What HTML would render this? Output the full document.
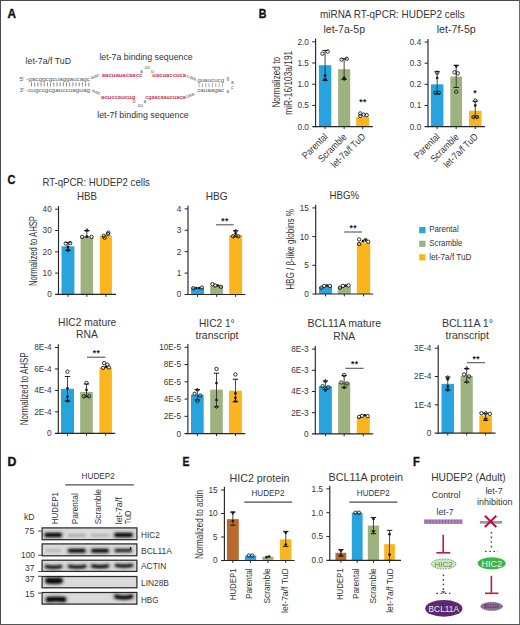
<!DOCTYPE html><html><head><meta charset="utf-8"><style>html,body{margin:0;padding:0;background:#fff;}svg{display:block;}</style></head><body>
<svg width="520" height="625" viewBox="0 0 520 625" font-family='"Liberation Sans", sans-serif' fill="#363636">
<rect x="0.00" y="0.00" width="520.00" height="625.00" fill="#fff" />
<defs><filter id="bl" filterUnits="userSpaceOnUse" x="0" y="0" width="520" height="625"><feGaussianBlur stdDeviation="0.8"/></filter><filter id="bl2" filterUnits="userSpaceOnUse" x="0" y="0" width="520" height="625"><feGaussianBlur stdDeviation="0.45"/></filter><filter id="bl3" filterUnits="userSpaceOnUse" x="0" y="0" width="520" height="625"><feGaussianBlur stdDeviation="1.3"/></filter></defs>
<text x="7.50" y="17.60" font-size="12.4" font-weight="bold" fill="#111" stroke="#111" stroke-width="0.35" textLength="8.50" lengthAdjust="spacingAndGlyphs" >A</text>
<text x="258.70" y="17.80" font-size="12.4" font-weight="bold" fill="#111" stroke="#111" stroke-width="0.35" textLength="7.70" lengthAdjust="spacingAndGlyphs" >B</text>
<text x="7.60" y="184.40" font-size="12.4" font-weight="bold" fill="#111" stroke="#111" stroke-width="0.35" textLength="7.90" lengthAdjust="spacingAndGlyphs" >C</text>
<text x="7.50" y="465.70" font-size="12.4" font-weight="bold" fill="#111" stroke="#111" stroke-width="0.35" textLength="8.90" lengthAdjust="spacingAndGlyphs" >D</text>
<text x="182.40" y="465.70" font-size="12.4" font-weight="bold" fill="#111" stroke="#111" stroke-width="0.35" textLength="7.00" lengthAdjust="spacingAndGlyphs" >E</text>
<text x="413.10" y="465.70" font-size="12.4" font-weight="bold" fill="#111" stroke="#111" stroke-width="0.35" textLength="6.80" lengthAdjust="spacingAndGlyphs" >F</text>
<text x="25.60" y="63.50" font-size="9.2" textLength="45.40" lengthAdjust="spacingAndGlyphs" >let-7a/f TuD</text>
<text x="99.40" y="59.80" font-size="9.2" textLength="93.30" lengthAdjust="spacingAndGlyphs" >let-7a binding sequence</text>
<text x="97.20" y="117.60" font-size="9.2" textLength="91.60" lengthAdjust="spacingAndGlyphs" >let-7f binding sequence</text>
<text x="19.50" y="81.20" font-size="4.8" fill="#5a5a5a" textLength="70.50" lengthAdjust="spacingAndGlyphs" >5' -gacggcgcuaggaucagc</text>
<text x="19.50" y="91.80" font-size="4.8" fill="#5a5a5a" textLength="70.50" lengthAdjust="spacingAndGlyphs" >3' -cugccgcgauccuaguag</text>
<line x1="31.50" y1="82.40" x2="31.50" y2="86.40" stroke="#555" stroke-width="0.7" />
<line x1="34.68" y1="82.40" x2="34.68" y2="86.40" stroke="#555" stroke-width="0.7" />
<line x1="37.87" y1="82.40" x2="37.87" y2="86.40" stroke="#555" stroke-width="0.7" />
<line x1="41.05" y1="82.40" x2="41.05" y2="86.40" stroke="#555" stroke-width="0.7" />
<line x1="44.23" y1="82.40" x2="44.23" y2="86.40" stroke="#555" stroke-width="0.7" />
<line x1="47.42" y1="82.40" x2="47.42" y2="86.40" stroke="#555" stroke-width="0.7" />
<line x1="50.60" y1="82.40" x2="50.60" y2="86.40" stroke="#555" stroke-width="0.7" />
<line x1="53.78" y1="82.40" x2="53.78" y2="86.40" stroke="#555" stroke-width="0.7" />
<line x1="56.97" y1="82.40" x2="56.97" y2="86.40" stroke="#555" stroke-width="0.7" />
<line x1="60.15" y1="82.40" x2="60.15" y2="86.40" stroke="#555" stroke-width="0.7" />
<line x1="63.33" y1="82.40" x2="63.33" y2="86.40" stroke="#555" stroke-width="0.7" />
<line x1="66.52" y1="82.40" x2="66.52" y2="86.40" stroke="#555" stroke-width="0.7" />
<line x1="69.70" y1="82.40" x2="69.70" y2="86.40" stroke="#555" stroke-width="0.7" />
<line x1="72.88" y1="82.40" x2="72.88" y2="86.40" stroke="#555" stroke-width="0.7" />
<line x1="76.07" y1="82.40" x2="76.07" y2="86.40" stroke="#555" stroke-width="0.7" />
<line x1="79.25" y1="82.40" x2="79.25" y2="86.40" stroke="#555" stroke-width="0.7" />
<line x1="82.43" y1="82.40" x2="82.43" y2="86.40" stroke="#555" stroke-width="0.7" />
<line x1="85.62" y1="82.40" x2="85.62" y2="86.40" stroke="#555" stroke-width="0.7" />
<line x1="88.80" y1="82.40" x2="88.80" y2="86.40" stroke="#555" stroke-width="0.7" />
<text x="91.60" y="79.30" font-size="4.7" fill="#5a5a5a" transform="rotate(-22 91.60 79.30)" textLength="9.00" lengthAdjust="spacingAndGlyphs" >aac</text>
<text x="91.60" y="91.60" font-size="4.7" fill="#5a5a5a" transform="rotate(22 91.60 91.60)" textLength="9.00" lengthAdjust="spacingAndGlyphs" >aac</text>
<text x="101.80" y="77.40" font-size="4.9" font-weight="bold" fill="#c8385a" textLength="40.50" lengthAdjust="spacingAndGlyphs" >aacuauacaacc</text>
<text x="140.00" y="72.50" font-size="4.9" fill="#5a5a5a" >a</text>
<text x="144.80" y="69.00" font-size="4.9" fill="#5a5a5a" >uc</text>
<text x="151.00" y="72.50" font-size="4.9" fill="#5a5a5a" >u</text>
<text x="152.30" y="77.40" font-size="4.9" font-weight="bold" fill="#c8385a" textLength="33.80" lengthAdjust="spacingAndGlyphs" >uacuaccuca</text>
<text x="186.30" y="77.00" font-size="4.7" fill="#5a5a5a" transform="rotate(22 186.30 77.00)" textLength="10.00" lengthAdjust="spacingAndGlyphs" >caa</text>
<text x="197.20" y="81.80" font-size="4.7" fill="#5a5a5a" textLength="27.00" lengthAdjust="spacingAndGlyphs" >guaucucg</text>
<text x="197.20" y="92.30" font-size="4.7" fill="#5a5a5a" textLength="27.00" lengthAdjust="spacingAndGlyphs" >cauaagac</text>
<line x1="199.00" y1="83.20" x2="199.00" y2="87.20" stroke="#777" stroke-width="0.6" />
<line x1="202.36" y1="83.20" x2="202.36" y2="87.20" stroke="#777" stroke-width="0.6" />
<line x1="205.71" y1="83.20" x2="205.71" y2="87.20" stroke="#777" stroke-width="0.6" />
<line x1="209.07" y1="83.20" x2="209.07" y2="87.20" stroke="#777" stroke-width="0.6" />
<line x1="212.43" y1="83.20" x2="212.43" y2="87.20" stroke="#777" stroke-width="0.6" />
<line x1="215.79" y1="83.20" x2="215.79" y2="87.20" stroke="#777" stroke-width="0.6" />
<line x1="219.14" y1="83.20" x2="219.14" y2="87.20" stroke="#777" stroke-width="0.6" />
<line x1="222.50" y1="83.20" x2="222.50" y2="87.20" stroke="#777" stroke-width="0.6" />
<text x="226.40" y="80.30" font-size="4.7" fill="#5a5a5a" >g</text>
<text x="230.90" y="84.00" font-size="4.7" fill="#5a5a5a" >a</text>
<text x="230.90" y="89.00" font-size="4.7" fill="#5a5a5a" >c</text>
<text x="226.40" y="92.60" font-size="4.7" fill="#5a5a5a" >a</text>
<text x="101.00" y="99.10" font-size="4.9" font-weight="bold" fill="#c8385a" textLength="34.40" lengthAdjust="spacingAndGlyphs" >acuccaucug</text>
<text x="132.80" y="103.20" font-size="4.9" fill="#5a5a5a" >u</text>
<text x="137.80" y="107.20" font-size="4.9" fill="#5a5a5a" >cu</text>
<text x="143.50" y="103.20" font-size="4.9" fill="#5a5a5a" >a</text>
<text x="145.20" y="99.10" font-size="4.9" font-weight="bold" fill="#c8385a" textLength="40.00" lengthAdjust="spacingAndGlyphs" >cgaacaaucuaca</text>
<text x="185.40" y="98.60" font-size="4.7" fill="#5a5a5a" transform="rotate(-22 185.40 98.60)" textLength="10.00" lengthAdjust="spacingAndGlyphs" >caa</text>
<text x="320.00" y="18.30" font-size="10.5" textLength="144.60" lengthAdjust="spacingAndGlyphs" >miRNA RT-qPCR: HUDEP2 cells</text>
<text x="323.50" y="32.50" font-size="10.5" textLength="41.50" lengthAdjust="spacingAndGlyphs" >let-7a-5p</text>
<text x="436.70" y="32.50" font-size="10.5" textLength="39.10" lengthAdjust="spacingAndGlyphs" >let-7f-5p</text>
<text x="280.30" y="82.30" font-size="10.4" text-anchor="middle" transform="rotate(-90 280.30 82.30)" textLength="50.60" lengthAdjust="spacingAndGlyphs" >Normalized to</text>
<text x="291.90" y="82.80" font-size="10.4" text-anchor="middle" transform="rotate(-90 291.90 82.80)" textLength="64.00" lengthAdjust="spacingAndGlyphs" >miR-16/103a/191</text>
<rect x="318.90" y="65.20" width="12.40" height="61.40" fill="#27a3dd" />
<rect x="338.10" y="69.19" width="12.10" height="57.41" fill="#9db27e" />
<rect x="356.20" y="117.06" width="13.00" height="9.54" fill="#fab51f" />
<line x1="315.60" y1="38.60" x2="315.60" y2="127.20" stroke="#262626" stroke-width="1.15" />
<line x1="312.20" y1="126.60" x2="372.80" y2="126.60" stroke="#262626" stroke-width="1.15" />
<text x="308.80" y="129.53" font-size="8.2" text-anchor="end" fill="#363636" >0.0</text>
<line x1="312.20" y1="105.40" x2="315.60" y2="105.40" stroke="#262626" stroke-width="1" />
<text x="308.80" y="108.33" font-size="8.2" text-anchor="end" fill="#363636" >0.5</text>
<line x1="312.20" y1="84.20" x2="315.60" y2="84.20" stroke="#262626" stroke-width="1" />
<text x="308.80" y="87.13" font-size="8.2" text-anchor="end" fill="#363636" >1.0</text>
<line x1="312.20" y1="63.00" x2="315.60" y2="63.00" stroke="#262626" stroke-width="1" />
<text x="308.80" y="65.93" font-size="8.2" text-anchor="end" fill="#363636" >1.5</text>
<line x1="312.20" y1="41.80" x2="315.60" y2="41.80" stroke="#262626" stroke-width="1" />
<text x="308.80" y="44.73" font-size="8.2" text-anchor="end" fill="#363636" >2.0</text>
<line x1="325.10" y1="126.60" x2="325.10" y2="129.00" stroke="#262626" stroke-width="1" />
<line x1="344.15" y1="126.60" x2="344.15" y2="129.00" stroke="#262626" stroke-width="1" />
<line x1="362.70" y1="126.60" x2="362.70" y2="129.00" stroke="#262626" stroke-width="1" />
<line x1="325.10" y1="50.41" x2="325.10" y2="80.38" stroke="#333" stroke-width="0.9" />
<line x1="322.40" y1="50.41" x2="327.80" y2="50.41" stroke="#1a1a1a" stroke-width="1.0" />
<line x1="322.40" y1="80.38" x2="327.80" y2="80.38" stroke="#1a1a1a" stroke-width="1.0" />
<circle cx="322.50" cy="53.67" r="1.7" fill="none" stroke="#1a1a1a" stroke-width="0.9"/>
<circle cx="327.70" cy="51.55" r="1.7" fill="none" stroke="#1a1a1a" stroke-width="0.9"/>
<circle cx="325.10" cy="75.72" r="1.35" fill="#1a1a1a"/>
<path d="M323.40,78.76 L326.80,78.76 L325.10,81.56 Z" fill="#1a1a1a" stroke="#1a1a1a" stroke-width="0.6"/>
<line x1="344.15" y1="58.76" x2="344.15" y2="79.54" stroke="#333" stroke-width="0.9" />
<line x1="341.45" y1="58.76" x2="346.85" y2="58.76" stroke="#1a1a1a" stroke-width="1.0" />
<line x1="341.45" y1="79.54" x2="346.85" y2="79.54" stroke="#1a1a1a" stroke-width="1.0" />
<circle cx="341.55" cy="59.61" r="1.7" fill="none" stroke="#1a1a1a" stroke-width="0.9"/>
<circle cx="346.75" cy="58.76" r="1.7" fill="none" stroke="#1a1a1a" stroke-width="0.9"/>
<circle cx="344.15" cy="77.84" r="1.35" fill="#1a1a1a"/>
<path d="M342.45,77.91 L345.85,77.91 L344.15,80.71 Z" fill="#1a1a1a" stroke="#1a1a1a" stroke-width="0.6"/>
<circle cx="360.30" cy="113.46" r="1.7" fill="none" stroke="#1a1a1a" stroke-width="0.9"/>
<circle cx="360.30" cy="116.00" r="1.7" fill="none" stroke="#1a1a1a" stroke-width="0.9"/>
<circle cx="363.70" cy="114.73" r="1.7" fill="none" stroke="#1a1a1a" stroke-width="0.9"/>
<circle cx="366.70" cy="115.15" r="1.7" fill="none" stroke="#1a1a1a" stroke-width="0.9"/>
<text x="360.80" y="104.50" font-size="8.5" text-anchor="middle" font-weight="bold" fill="#1a1a1a" >*</text>
<text x="364.60" y="104.50" font-size="8.5" text-anchor="middle" font-weight="bold" fill="#1a1a1a" >*</text>
<rect x="430.90" y="84.34" width="12.50" height="42.26" fill="#27a3dd" />
<rect x="450.30" y="76.52" width="11.80" height="50.08" fill="#9db27e" />
<rect x="469.00" y="110.75" width="12.50" height="15.85" fill="#fab51f" />
<line x1="428.00" y1="38.88" x2="428.00" y2="127.20" stroke="#262626" stroke-width="1.15" />
<line x1="424.60" y1="126.60" x2="485.00" y2="126.60" stroke="#262626" stroke-width="1.15" />
<text x="421.20" y="129.53" font-size="8.2" text-anchor="end" fill="#363636" >0.0</text>
<line x1="424.60" y1="105.47" x2="428.00" y2="105.47" stroke="#262626" stroke-width="1" />
<text x="421.20" y="108.40" font-size="8.2" text-anchor="end" fill="#363636" >0.1</text>
<line x1="424.60" y1="84.34" x2="428.00" y2="84.34" stroke="#262626" stroke-width="1" />
<text x="421.20" y="87.27" font-size="8.2" text-anchor="end" fill="#363636" >0.2</text>
<line x1="424.60" y1="63.21" x2="428.00" y2="63.21" stroke="#262626" stroke-width="1" />
<text x="421.20" y="66.14" font-size="8.2" text-anchor="end" fill="#363636" >0.3</text>
<line x1="424.60" y1="42.08" x2="428.00" y2="42.08" stroke="#262626" stroke-width="1" />
<text x="421.20" y="45.01" font-size="8.2" text-anchor="end" fill="#363636" >0.4</text>
<line x1="437.15" y1="126.60" x2="437.15" y2="129.00" stroke="#262626" stroke-width="1" />
<line x1="456.20" y1="126.60" x2="456.20" y2="129.00" stroke="#262626" stroke-width="1" />
<line x1="475.25" y1="126.60" x2="475.25" y2="129.00" stroke="#262626" stroke-width="1" />
<line x1="437.15" y1="71.66" x2="437.15" y2="93.85" stroke="#333" stroke-width="0.9" />
<line x1="434.45" y1="71.66" x2="439.85" y2="71.66" stroke="#1a1a1a" stroke-width="1.0" />
<line x1="434.45" y1="93.85" x2="439.85" y2="93.85" stroke="#1a1a1a" stroke-width="1.0" />
<circle cx="437.15" cy="72.72" r="1.7" fill="none" stroke="#1a1a1a" stroke-width="0.9"/>
<circle cx="437.15" cy="78.00" r="1.35" fill="#1a1a1a"/>
<circle cx="435.55" cy="92.79" r="1.7" fill="none" stroke="#1a1a1a" stroke-width="0.9"/>
<circle cx="438.75" cy="92.79" r="1.7" fill="none" stroke="#1a1a1a" stroke-width="0.9"/>
<line x1="456.20" y1="65.32" x2="456.20" y2="87.51" stroke="#333" stroke-width="0.9" />
<line x1="453.50" y1="65.32" x2="458.90" y2="65.32" stroke="#1a1a1a" stroke-width="1.0" />
<line x1="453.50" y1="87.51" x2="458.90" y2="87.51" stroke="#1a1a1a" stroke-width="1.0" />
<circle cx="454.60" cy="72.30" r="1.7" fill="none" stroke="#1a1a1a" stroke-width="0.9"/>
<circle cx="457.80" cy="73.35" r="1.7" fill="none" stroke="#1a1a1a" stroke-width="0.9"/>
<circle cx="456.20" cy="91.74" r="1.7" fill="none" stroke="#1a1a1a" stroke-width="0.9"/>
<path d="M454.50,65.18 L457.90,65.18 L456.20,67.98 Z" fill="#1a1a1a" stroke="#1a1a1a" stroke-width="0.6"/>
<line x1="475.25" y1="101.24" x2="475.25" y2="117.09" stroke="#333" stroke-width="0.9" />
<line x1="472.55" y1="101.24" x2="477.95" y2="101.24" stroke="#1a1a1a" stroke-width="1.0" />
<line x1="472.55" y1="117.09" x2="477.95" y2="117.09" stroke="#1a1a1a" stroke-width="1.0" />
<circle cx="475.25" cy="100.61" r="1.7" fill="none" stroke="#1a1a1a" stroke-width="0.9"/>
<circle cx="475.25" cy="105.47" r="1.35" fill="#1a1a1a"/>
<circle cx="473.45" cy="117.09" r="1.7" fill="none" stroke="#1a1a1a" stroke-width="0.9"/>
<circle cx="477.05" cy="117.09" r="1.7" fill="none" stroke="#1a1a1a" stroke-width="0.9"/>
<text x="474.90" y="96.00" font-size="8.5" text-anchor="middle" font-weight="bold" fill="#1a1a1a" >*</text>
<text x="328.30" y="137.30" font-size="9.8" text-anchor="end" transform="rotate(-45 328.30 137.30)" textLength="31.50" lengthAdjust="spacingAndGlyphs" >Parental</text>
<text x="347.20" y="137.60" font-size="9.8" text-anchor="end" transform="rotate(-45 347.20 137.60)" textLength="35.50" lengthAdjust="spacingAndGlyphs" >Scramble</text>
<text x="366.00" y="137.30" font-size="9.8" text-anchor="end" transform="rotate(-45 366.00 137.30)" textLength="44.00" lengthAdjust="spacingAndGlyphs" >let-7a/f TuD</text>
<text x="440.30" y="137.30" font-size="9.8" text-anchor="end" transform="rotate(-45 440.30 137.30)" textLength="31.50" lengthAdjust="spacingAndGlyphs" >Parental</text>
<text x="459.50" y="137.60" font-size="9.8" text-anchor="end" transform="rotate(-45 459.50 137.60)" textLength="35.50" lengthAdjust="spacingAndGlyphs" >Scramble</text>
<text x="478.50" y="137.30" font-size="9.8" text-anchor="end" transform="rotate(-45 478.50 137.30)" textLength="44.00" lengthAdjust="spacingAndGlyphs" >let-7a/f TuD</text>
<text x="42.40" y="185.60" font-size="10.5" textLength="107.50" lengthAdjust="spacingAndGlyphs" >RT-qPCR: HUDEP2 cells</text>
<text x="77.00" y="199.60" font-size="10.5" textLength="20.00" lengthAdjust="spacingAndGlyphs" >HBB</text>
<text x="205.80" y="200.00" font-size="10.5" textLength="21.90" lengthAdjust="spacingAndGlyphs" >HBG</text>
<text x="329.60" y="198.80" font-size="10.5" textLength="29.60" lengthAdjust="spacingAndGlyphs" >HBG%</text>
<text x="36.60" y="251.00" font-size="10.4" text-anchor="middle" transform="rotate(-90 36.60 251.00)" textLength="70.00" lengthAdjust="spacingAndGlyphs" >Normalized to AHSP</text>
<text x="293.60" y="249.40" font-size="10.4" text-anchor="middle" transform="rotate(-90 293.60 249.40)" textLength="80.80" lengthAdjust="spacingAndGlyphs" >HBG / β-like globins %</text>
<rect x="61.50" y="246.26" width="12.90" height="48.14" fill="#27a3dd" />
<rect x="80.60" y="237.53" width="12.50" height="56.87" fill="#9db27e" />
<rect x="99.80" y="235.61" width="12.10" height="58.79" fill="#fab51f" />
<line x1="58.50" y1="206.00" x2="58.50" y2="295.00" stroke="#262626" stroke-width="1.15" />
<line x1="55.10" y1="294.40" x2="116.00" y2="294.40" stroke="#262626" stroke-width="1.15" />
<text x="51.70" y="297.33" font-size="8.2" text-anchor="end" fill="#363636" >0</text>
<line x1="55.10" y1="273.10" x2="58.50" y2="273.10" stroke="#262626" stroke-width="1" />
<text x="51.70" y="276.03" font-size="8.2" text-anchor="end" fill="#363636" >10</text>
<line x1="55.10" y1="251.80" x2="58.50" y2="251.80" stroke="#262626" stroke-width="1" />
<text x="51.70" y="254.73" font-size="8.2" text-anchor="end" fill="#363636" >20</text>
<line x1="55.10" y1="230.50" x2="58.50" y2="230.50" stroke="#262626" stroke-width="1" />
<text x="51.70" y="233.43" font-size="8.2" text-anchor="end" fill="#363636" >30</text>
<line x1="55.10" y1="209.20" x2="58.50" y2="209.20" stroke="#262626" stroke-width="1" />
<text x="51.70" y="212.13" font-size="8.2" text-anchor="end" fill="#363636" >40</text>
<line x1="67.95" y1="294.40" x2="67.95" y2="296.80" stroke="#262626" stroke-width="1" />
<line x1="86.85" y1="294.40" x2="86.85" y2="296.80" stroke="#262626" stroke-width="1" />
<line x1="105.85" y1="294.40" x2="105.85" y2="296.80" stroke="#262626" stroke-width="1" />
<line x1="67.95" y1="242.64" x2="67.95" y2="250.52" stroke="#333" stroke-width="0.9" />
<line x1="65.25" y1="242.64" x2="70.65" y2="242.64" stroke="#1a1a1a" stroke-width="1.0" />
<line x1="65.25" y1="250.52" x2="70.65" y2="250.52" stroke="#1a1a1a" stroke-width="1.0" />
<circle cx="65.75" cy="243.49" r="1.7" fill="none" stroke="#1a1a1a" stroke-width="0.9"/>
<circle cx="70.15" cy="243.07" r="1.7" fill="none" stroke="#1a1a1a" stroke-width="0.9"/>
<circle cx="67.95" cy="247.11" r="1.35" fill="#1a1a1a"/>
<path d="M66.25,249.32 L69.65,249.32 L67.95,252.12 Z" fill="#1a1a1a" stroke="#1a1a1a" stroke-width="0.6"/>
<line x1="86.85" y1="230.50" x2="86.85" y2="236.89" stroke="#333" stroke-width="0.9" />
<line x1="84.15" y1="230.50" x2="89.55" y2="230.50" stroke="#1a1a1a" stroke-width="1.0" />
<line x1="84.15" y1="236.89" x2="89.55" y2="236.89" stroke="#1a1a1a" stroke-width="1.0" />
<circle cx="82.15" cy="236.89" r="1.7" fill="none" stroke="#1a1a1a" stroke-width="0.9"/>
<circle cx="86.85" cy="236.68" r="1.35" fill="#1a1a1a"/>
<circle cx="91.55" cy="236.89" r="1.7" fill="none" stroke="#1a1a1a" stroke-width="0.9"/>
<path d="M85.15,231.27 L88.55,231.27 L86.85,228.47 Z" fill="none" stroke="#1a1a1a" stroke-width="0.85"/>
<circle cx="103.85" cy="235.82" r="1.7" fill="none" stroke="#1a1a1a" stroke-width="0.9"/>
<circle cx="108.05" cy="234.12" r="1.7" fill="none" stroke="#1a1a1a" stroke-width="0.9"/>
<circle cx="104.65" cy="237.74" r="1.7" fill="none" stroke="#1a1a1a" stroke-width="0.9"/>
<circle cx="108.35" cy="232.63" r="1.7" fill="none" stroke="#1a1a1a" stroke-width="0.9"/>
<rect x="191.10" y="287.65" width="12.90" height="6.85" fill="#27a3dd" />
<rect x="210.20" y="285.73" width="12.90" height="8.77" fill="#9db27e" />
<rect x="229.20" y="235.01" width="12.90" height="59.49" fill="#fab51f" />
<line x1="188.00" y1="205.70" x2="188.00" y2="295.10" stroke="#262626" stroke-width="1.15" />
<line x1="184.60" y1="294.50" x2="245.50" y2="294.50" stroke="#262626" stroke-width="1.15" />
<text x="181.20" y="297.43" font-size="8.2" text-anchor="end" fill="#363636" >0</text>
<line x1="184.60" y1="273.10" x2="188.00" y2="273.10" stroke="#262626" stroke-width="1" />
<text x="181.20" y="276.03" font-size="8.2" text-anchor="end" fill="#363636" >1</text>
<line x1="184.60" y1="251.70" x2="188.00" y2="251.70" stroke="#262626" stroke-width="1" />
<text x="181.20" y="254.63" font-size="8.2" text-anchor="end" fill="#363636" >2</text>
<line x1="184.60" y1="230.30" x2="188.00" y2="230.30" stroke="#262626" stroke-width="1" />
<text x="181.20" y="233.23" font-size="8.2" text-anchor="end" fill="#363636" >3</text>
<line x1="184.60" y1="208.90" x2="188.00" y2="208.90" stroke="#262626" stroke-width="1" />
<text x="181.20" y="211.83" font-size="8.2" text-anchor="end" fill="#363636" >4</text>
<line x1="197.55" y1="294.50" x2="197.55" y2="296.90" stroke="#262626" stroke-width="1" />
<line x1="216.65" y1="294.50" x2="216.65" y2="296.90" stroke="#262626" stroke-width="1" />
<line x1="235.65" y1="294.50" x2="235.65" y2="296.90" stroke="#262626" stroke-width="1" />
<circle cx="193.25" cy="288.29" r="1.7" fill="none" stroke="#1a1a1a" stroke-width="0.9"/>
<circle cx="196.15" cy="288.08" r="1.35" fill="#1a1a1a"/>
<circle cx="198.95" cy="288.08" r="1.35" fill="#1a1a1a"/>
<circle cx="201.85" cy="287.65" r="1.7" fill="none" stroke="#1a1a1a" stroke-width="0.9"/>
<circle cx="212.35" cy="284.23" r="1.7" fill="none" stroke="#1a1a1a" stroke-width="0.9"/>
<circle cx="215.25" cy="285.51" r="1.7" fill="none" stroke="#1a1a1a" stroke-width="0.9"/>
<circle cx="218.05" cy="285.51" r="1.35" fill="#1a1a1a"/>
<circle cx="220.95" cy="286.80" r="1.7" fill="none" stroke="#1a1a1a" stroke-width="0.9"/>
<line x1="235.65" y1="230.73" x2="235.65" y2="236.72" stroke="#333" stroke-width="0.9" />
<line x1="232.95" y1="230.73" x2="238.35" y2="230.73" stroke="#1a1a1a" stroke-width="1.0" />
<line x1="232.95" y1="236.72" x2="238.35" y2="236.72" stroke="#1a1a1a" stroke-width="1.0" />
<circle cx="233.05" cy="236.29" r="1.7" fill="none" stroke="#1a1a1a" stroke-width="0.9"/>
<circle cx="238.25" cy="236.29" r="1.7" fill="none" stroke="#1a1a1a" stroke-width="0.9"/>
<circle cx="235.65" cy="233.72" r="1.35" fill="#1a1a1a"/>
<path d="M233.95,231.93 L237.35,231.93 L235.65,229.13 Z" fill="none" stroke="#1a1a1a" stroke-width="0.85"/>
<line x1="216.00" y1="224.80" x2="233.70" y2="224.80" stroke="#555" stroke-width="1.1" />
<text x="222.95" y="223.60" font-size="8.5" text-anchor="middle" font-weight="bold" fill="#1a1a1a" >*</text>
<text x="226.75" y="223.60" font-size="8.5" text-anchor="middle" font-weight="bold" fill="#1a1a1a" >*</text>
<rect x="319.10" y="286.82" width="13.00" height="7.18" fill="#27a3dd" />
<rect x="337.80" y="286.82" width="13.00" height="7.18" fill="#9db27e" />
<rect x="356.90" y="242.63" width="13.30" height="51.37" fill="#fab51f" />
<line x1="315.70" y1="204.70" x2="315.70" y2="294.60" stroke="#262626" stroke-width="1.15" />
<line x1="312.30" y1="294.00" x2="373.20" y2="294.00" stroke="#262626" stroke-width="1.15" />
<text x="308.90" y="296.93" font-size="8.2" text-anchor="end" fill="#363636" >0</text>
<line x1="312.30" y1="265.30" x2="315.70" y2="265.30" stroke="#262626" stroke-width="1" />
<text x="308.90" y="268.23" font-size="8.2" text-anchor="end" fill="#363636" >5</text>
<line x1="312.30" y1="236.60" x2="315.70" y2="236.60" stroke="#262626" stroke-width="1" />
<text x="308.90" y="239.53" font-size="8.2" text-anchor="end" fill="#363636" >10</text>
<line x1="312.30" y1="207.90" x2="315.70" y2="207.90" stroke="#262626" stroke-width="1" />
<text x="308.90" y="210.83" font-size="8.2" text-anchor="end" fill="#363636" >15</text>
<line x1="325.60" y1="294.00" x2="325.60" y2="296.40" stroke="#262626" stroke-width="1" />
<line x1="344.30" y1="294.00" x2="344.30" y2="296.40" stroke="#262626" stroke-width="1" />
<line x1="363.55" y1="294.00" x2="363.55" y2="296.40" stroke="#262626" stroke-width="1" />
<circle cx="321.30" cy="287.69" r="1.7" fill="none" stroke="#1a1a1a" stroke-width="0.9"/>
<circle cx="324.20" cy="285.96" r="1.7" fill="none" stroke="#1a1a1a" stroke-width="0.9"/>
<circle cx="327.00" cy="285.68" r="1.35" fill="#1a1a1a"/>
<circle cx="329.90" cy="285.96" r="1.7" fill="none" stroke="#1a1a1a" stroke-width="0.9"/>
<circle cx="340.00" cy="287.69" r="1.7" fill="none" stroke="#1a1a1a" stroke-width="0.9"/>
<circle cx="342.90" cy="285.96" r="1.7" fill="none" stroke="#1a1a1a" stroke-width="0.9"/>
<circle cx="345.70" cy="285.68" r="1.35" fill="#1a1a1a"/>
<circle cx="348.60" cy="285.39" r="1.7" fill="none" stroke="#1a1a1a" stroke-width="0.9"/>
<circle cx="359.15" cy="239.47" r="1.7" fill="none" stroke="#1a1a1a" stroke-width="0.9"/>
<circle cx="359.15" cy="244.06" r="1.7" fill="none" stroke="#1a1a1a" stroke-width="0.9"/>
<circle cx="362.95" cy="241.19" r="1.35" fill="#1a1a1a"/>
<path d="M363.85,238.84 L367.25,238.84 L365.55,241.64 Z" fill="#1a1a1a" stroke="#1a1a1a" stroke-width="0.6"/>
<circle cx="368.15" cy="241.77" r="1.7" fill="none" stroke="#1a1a1a" stroke-width="0.9"/>
<line x1="344.20" y1="232.00" x2="362.00" y2="232.00" stroke="#555" stroke-width="1.1" />
<text x="351.20" y="230.80" font-size="8.5" text-anchor="middle" font-weight="bold" fill="#1a1a1a" >*</text>
<text x="355.00" y="230.80" font-size="8.5" text-anchor="middle" font-weight="bold" fill="#1a1a1a" >*</text>
<rect x="419.20" y="227.00" width="6.30" height="6.20" fill="#27a3dd" />
<text x="429.20" y="232.40" font-size="9.0" textLength="29.50" lengthAdjust="spacingAndGlyphs" >Parental</text>
<rect x="419.20" y="240.70" width="6.30" height="6.20" fill="#9db27e" />
<text x="429.20" y="246.20" font-size="9.0" textLength="33.30" lengthAdjust="spacingAndGlyphs" >Scramble</text>
<rect x="419.20" y="254.20" width="6.30" height="6.20" fill="#fab51f" />
<text x="429.20" y="259.80" font-size="9.0" textLength="42.30" lengthAdjust="spacingAndGlyphs" >let-7a/f TuD</text>
<text x="58.00" y="325.90" font-size="10.5" textLength="58.30" lengthAdjust="spacingAndGlyphs" >HIC2 mature</text>
<text x="76.00" y="338.10" font-size="10.5" textLength="21.80" lengthAdjust="spacingAndGlyphs" >RNA</text>
<text x="199.00" y="326.50" font-size="10.5" textLength="35.60" lengthAdjust="spacingAndGlyphs" >HIC2 1°</text>
<text x="195.50" y="338.60" font-size="10.5" textLength="42.90" lengthAdjust="spacingAndGlyphs" >transcript</text>
<text x="307.50" y="327.30" font-size="10.5" textLength="73.60" lengthAdjust="spacingAndGlyphs" >BCL11A mature</text>
<text x="333.30" y="339.60" font-size="10.5" textLength="21.80" lengthAdjust="spacingAndGlyphs" >RNA</text>
<text x="441.90" y="326.50" font-size="10.5" textLength="51.10" lengthAdjust="spacingAndGlyphs" >BCL11A 1°</text>
<text x="445.50" y="338.60" font-size="10.5" textLength="43.40" lengthAdjust="spacingAndGlyphs" >transcript</text>
<text x="28.00" y="388.80" font-size="10.4" text-anchor="middle" transform="rotate(-90 28.00 388.80)" textLength="73.00" lengthAdjust="spacingAndGlyphs" >Normalized to AHSP</text>
<rect x="61.00" y="388.81" width="13.00" height="44.49" fill="#27a3dd" />
<rect x="80.20" y="391.92" width="12.60" height="41.38" fill="#9db27e" />
<rect x="99.40" y="367.59" width="12.50" height="65.71" fill="#fab51f" />
<line x1="58.30" y1="344.34" x2="58.30" y2="433.90" stroke="#262626" stroke-width="1.15" />
<line x1="54.90" y1="433.30" x2="115.20" y2="433.30" stroke="#262626" stroke-width="1.15" />
<text x="51.50" y="436.23" font-size="8.2" text-anchor="end" fill="#363636" >0</text>
<line x1="54.90" y1="411.86" x2="58.30" y2="411.86" stroke="#262626" stroke-width="1" />
<text x="51.50" y="414.79" font-size="8.2" text-anchor="end" fill="#363636" >2E-4</text>
<line x1="54.90" y1="390.42" x2="58.30" y2="390.42" stroke="#262626" stroke-width="1" />
<text x="51.50" y="393.35" font-size="8.2" text-anchor="end" fill="#363636" >4E-4</text>
<line x1="54.90" y1="368.98" x2="58.30" y2="368.98" stroke="#262626" stroke-width="1" />
<text x="51.50" y="371.91" font-size="8.2" text-anchor="end" fill="#363636" >6E-4</text>
<line x1="54.90" y1="347.54" x2="58.30" y2="347.54" stroke="#262626" stroke-width="1" />
<text x="51.50" y="350.47" font-size="8.2" text-anchor="end" fill="#363636" >8E-4</text>
<line x1="67.50" y1="433.30" x2="67.50" y2="435.70" stroke="#262626" stroke-width="1" />
<line x1="86.50" y1="433.30" x2="86.50" y2="435.70" stroke="#262626" stroke-width="1" />
<line x1="105.65" y1="433.30" x2="105.65" y2="435.70" stroke="#262626" stroke-width="1" />
<line x1="67.50" y1="376.48" x2="67.50" y2="401.14" stroke="#333" stroke-width="0.9" />
<line x1="64.80" y1="376.48" x2="70.20" y2="376.48" stroke="#1a1a1a" stroke-width="1.0" />
<line x1="64.80" y1="401.14" x2="70.20" y2="401.14" stroke="#1a1a1a" stroke-width="1.0" />
<circle cx="67.50" cy="371.66" r="1.7" fill="none" stroke="#1a1a1a" stroke-width="0.9"/>
<circle cx="67.50" cy="388.28" r="1.35" fill="#1a1a1a"/>
<circle cx="67.50" cy="396.85" r="1.35" fill="#1a1a1a"/>
<path d="M65.80,399.94 L69.20,399.94 L67.50,402.74 Z" fill="#1a1a1a" stroke="#1a1a1a" stroke-width="0.6"/>
<line x1="86.50" y1="383.99" x2="86.50" y2="396.85" stroke="#333" stroke-width="0.9" />
<line x1="83.80" y1="383.99" x2="89.20" y2="383.99" stroke="#1a1a1a" stroke-width="1.0" />
<line x1="83.80" y1="396.85" x2="89.20" y2="396.85" stroke="#1a1a1a" stroke-width="1.0" />
<circle cx="86.50" cy="382.92" r="1.7" fill="none" stroke="#1a1a1a" stroke-width="0.9"/>
<circle cx="86.50" cy="389.88" r="1.35" fill="#1a1a1a"/>
<circle cx="83.90" cy="396.32" r="1.7" fill="none" stroke="#1a1a1a" stroke-width="0.9"/>
<circle cx="89.10" cy="396.32" r="1.7" fill="none" stroke="#1a1a1a" stroke-width="0.9"/>
<circle cx="104.15" cy="363.08" r="1.7" fill="none" stroke="#1a1a1a" stroke-width="0.9"/>
<circle cx="107.45" cy="364.69" r="1.7" fill="none" stroke="#1a1a1a" stroke-width="0.9"/>
<circle cx="103.05" cy="367.91" r="1.7" fill="none" stroke="#1a1a1a" stroke-width="0.9"/>
<circle cx="106.15" cy="366.84" r="1.35" fill="#1a1a1a"/>
<circle cx="108.85" cy="367.37" r="1.7" fill="none" stroke="#1a1a1a" stroke-width="0.9"/>
<line x1="87.00" y1="357.20" x2="105.40" y2="357.20" stroke="#555" stroke-width="1.1" />
<text x="94.30" y="356.00" font-size="8.5" text-anchor="middle" font-weight="bold" fill="#1a1a1a" >*</text>
<text x="98.10" y="356.00" font-size="8.5" text-anchor="middle" font-weight="bold" fill="#1a1a1a" >*</text>
<rect x="191.00" y="394.77" width="12.70" height="38.83" fill="#27a3dd" />
<rect x="210.20" y="389.59" width="12.60" height="44.01" fill="#9db27e" />
<rect x="229.00" y="390.71" width="12.90" height="42.89" fill="#fab51f" />
<line x1="187.90" y1="344.10" x2="187.90" y2="434.20" stroke="#262626" stroke-width="1.15" />
<line x1="184.50" y1="433.60" x2="245.20" y2="433.60" stroke="#262626" stroke-width="1.15" />
<text x="181.10" y="436.53" font-size="8.2" text-anchor="end" fill="#363636" >0</text>
<line x1="184.50" y1="416.34" x2="187.90" y2="416.34" stroke="#262626" stroke-width="1" />
<text x="181.10" y="419.27" font-size="8.2" text-anchor="end" fill="#363636" >2E-5</text>
<line x1="184.50" y1="399.08" x2="187.90" y2="399.08" stroke="#262626" stroke-width="1" />
<text x="181.10" y="402.01" font-size="8.2" text-anchor="end" fill="#363636" >4E-5</text>
<line x1="184.50" y1="381.82" x2="187.90" y2="381.82" stroke="#262626" stroke-width="1" />
<text x="181.10" y="384.75" font-size="8.2" text-anchor="end" fill="#363636" >6E-5</text>
<line x1="184.50" y1="364.56" x2="187.90" y2="364.56" stroke="#262626" stroke-width="1" />
<text x="181.10" y="367.49" font-size="8.2" text-anchor="end" fill="#363636" >8E-5</text>
<line x1="184.50" y1="347.30" x2="187.90" y2="347.30" stroke="#262626" stroke-width="1" />
<text x="181.10" y="350.23" font-size="8.2" text-anchor="end" fill="#363636" >10E-5</text>
<line x1="197.35" y1="433.60" x2="197.35" y2="436.00" stroke="#262626" stroke-width="1" />
<line x1="216.50" y1="433.60" x2="216.50" y2="436.00" stroke="#262626" stroke-width="1" />
<line x1="235.45" y1="433.60" x2="235.45" y2="436.00" stroke="#262626" stroke-width="1" />
<line x1="197.35" y1="389.59" x2="197.35" y2="399.94" stroke="#333" stroke-width="0.9" />
<line x1="194.65" y1="389.59" x2="200.05" y2="389.59" stroke="#1a1a1a" stroke-width="1.0" />
<line x1="194.65" y1="399.94" x2="200.05" y2="399.94" stroke="#1a1a1a" stroke-width="1.0" />
<path d="M195.65,390.79 L199.05,390.79 L197.35,387.99 Z" fill="none" stroke="#1a1a1a" stroke-width="0.85"/>
<circle cx="194.55" cy="393.90" r="1.7" fill="none" stroke="#1a1a1a" stroke-width="0.9"/>
<circle cx="200.15" cy="395.63" r="1.7" fill="none" stroke="#1a1a1a" stroke-width="0.9"/>
<circle cx="197.35" cy="400.81" r="1.7" fill="none" stroke="#1a1a1a" stroke-width="0.9"/>
<line x1="216.50" y1="373.19" x2="216.50" y2="406.85" stroke="#333" stroke-width="0.9" />
<line x1="213.80" y1="373.19" x2="219.20" y2="373.19" stroke="#1a1a1a" stroke-width="1.0" />
<line x1="213.80" y1="406.85" x2="219.20" y2="406.85" stroke="#1a1a1a" stroke-width="1.0" />
<circle cx="216.50" cy="368.88" r="1.7" fill="none" stroke="#1a1a1a" stroke-width="0.9"/>
<circle cx="216.50" cy="383.11" r="1.35" fill="#1a1a1a"/>
<circle cx="216.50" cy="399.94" r="1.35" fill="#1a1a1a"/>
<path d="M216.50,405.15 L218.10,406.85 L216.50,408.55 L214.90,406.85 Z" fill="none" stroke="#1a1a1a" stroke-width="0.85"/>
<line x1="235.45" y1="379.23" x2="235.45" y2="401.67" stroke="#333" stroke-width="0.9" />
<line x1="232.75" y1="379.23" x2="238.15" y2="379.23" stroke="#1a1a1a" stroke-width="1.0" />
<line x1="232.75" y1="401.67" x2="238.15" y2="401.67" stroke="#1a1a1a" stroke-width="1.0" />
<circle cx="235.45" cy="374.48" r="1.7" fill="none" stroke="#1a1a1a" stroke-width="0.9"/>
<circle cx="235.45" cy="393.47" r="1.35" fill="#1a1a1a"/>
<circle cx="235.45" cy="397.79" r="1.35" fill="#1a1a1a"/>
<path d="M233.75,402.01 L237.15,402.01 L235.45,399.21 Z" fill="none" stroke="#1a1a1a" stroke-width="0.85"/>
<rect x="318.90" y="386.20" width="13.00" height="47.70" fill="#27a3dd" />
<rect x="338.10" y="382.38" width="12.10" height="51.52" fill="#9db27e" />
<rect x="356.80" y="416.94" width="13.00" height="16.96" fill="#fab51f" />
<line x1="315.30" y1="345.90" x2="315.30" y2="434.50" stroke="#262626" stroke-width="1.15" />
<line x1="311.90" y1="433.90" x2="373.20" y2="433.90" stroke="#262626" stroke-width="1.15" />
<text x="308.50" y="436.83" font-size="8.2" text-anchor="end" fill="#363636" >0</text>
<line x1="311.90" y1="412.70" x2="315.30" y2="412.70" stroke="#262626" stroke-width="1" />
<text x="308.50" y="415.63" font-size="8.2" text-anchor="end" fill="#363636" >2E-3</text>
<line x1="311.90" y1="391.50" x2="315.30" y2="391.50" stroke="#262626" stroke-width="1" />
<text x="308.50" y="394.43" font-size="8.2" text-anchor="end" fill="#363636" >4E-3</text>
<line x1="311.90" y1="370.30" x2="315.30" y2="370.30" stroke="#262626" stroke-width="1" />
<text x="308.50" y="373.23" font-size="8.2" text-anchor="end" fill="#363636" >6E-3</text>
<line x1="311.90" y1="349.10" x2="315.30" y2="349.10" stroke="#262626" stroke-width="1" />
<text x="308.50" y="352.03" font-size="8.2" text-anchor="end" fill="#363636" >8E-3</text>
<line x1="325.40" y1="433.90" x2="325.40" y2="436.30" stroke="#262626" stroke-width="1" />
<line x1="344.15" y1="433.90" x2="344.15" y2="436.30" stroke="#262626" stroke-width="1" />
<line x1="363.30" y1="433.90" x2="363.30" y2="436.30" stroke="#262626" stroke-width="1" />
<line x1="325.40" y1="380.90" x2="325.40" y2="389.38" stroke="#333" stroke-width="0.9" />
<line x1="322.70" y1="380.90" x2="328.10" y2="380.90" stroke="#1a1a1a" stroke-width="1.0" />
<line x1="322.70" y1="389.38" x2="328.10" y2="389.38" stroke="#1a1a1a" stroke-width="1.0" />
<path d="M323.70,382.10 L327.10,382.10 L325.40,379.30 Z" fill="none" stroke="#1a1a1a" stroke-width="0.85"/>
<circle cx="322.60" cy="386.20" r="1.7" fill="none" stroke="#1a1a1a" stroke-width="0.9"/>
<circle cx="328.20" cy="387.26" r="1.7" fill="none" stroke="#1a1a1a" stroke-width="0.9"/>
<circle cx="325.40" cy="390.44" r="1.35" fill="#1a1a1a"/>
<line x1="344.15" y1="375.60" x2="344.15" y2="387.26" stroke="#333" stroke-width="0.9" />
<line x1="341.45" y1="375.60" x2="346.85" y2="375.60" stroke="#1a1a1a" stroke-width="1.0" />
<line x1="341.45" y1="387.26" x2="346.85" y2="387.26" stroke="#1a1a1a" stroke-width="1.0" />
<circle cx="344.15" cy="375.07" r="1.7" fill="none" stroke="#1a1a1a" stroke-width="0.9"/>
<circle cx="341.35" cy="382.49" r="1.7" fill="none" stroke="#1a1a1a" stroke-width="0.9"/>
<circle cx="346.95" cy="383.55" r="1.7" fill="none" stroke="#1a1a1a" stroke-width="0.9"/>
<circle cx="344.15" cy="387.79" r="1.35" fill="#1a1a1a"/>
<circle cx="359.10" cy="416.94" r="1.7" fill="none" stroke="#1a1a1a" stroke-width="0.9"/>
<circle cx="362.10" cy="415.88" r="1.7" fill="none" stroke="#1a1a1a" stroke-width="0.9"/>
<circle cx="364.90" cy="415.35" r="1.35" fill="#1a1a1a"/>
<circle cx="367.70" cy="416.09" r="1.7" fill="none" stroke="#1a1a1a" stroke-width="0.9"/>
<line x1="345.30" y1="368.30" x2="363.60" y2="368.30" stroke="#555" stroke-width="1.1" />
<text x="352.55" y="367.10" font-size="8.5" text-anchor="middle" font-weight="bold" fill="#1a1a1a" >*</text>
<text x="356.35" y="367.10" font-size="8.5" text-anchor="middle" font-weight="bold" fill="#1a1a1a" >*</text>
<rect x="441.50" y="383.86" width="12.50" height="49.24" fill="#27a3dd" />
<rect x="460.60" y="375.93" width="12.20" height="57.17" fill="#9db27e" />
<rect x="479.40" y="415.55" width="12.50" height="17.55" fill="#fab51f" />
<line x1="438.20" y1="345.00" x2="438.20" y2="433.70" stroke="#262626" stroke-width="1.15" />
<line x1="434.80" y1="433.10" x2="495.50" y2="433.10" stroke="#262626" stroke-width="1.15" />
<text x="431.40" y="436.03" font-size="8.2" text-anchor="end" fill="#363636" >0</text>
<line x1="434.80" y1="404.80" x2="438.20" y2="404.80" stroke="#262626" stroke-width="1" />
<text x="431.40" y="407.73" font-size="8.2" text-anchor="end" fill="#363636" >1E-4</text>
<line x1="434.80" y1="376.50" x2="438.20" y2="376.50" stroke="#262626" stroke-width="1" />
<text x="431.40" y="379.43" font-size="8.2" text-anchor="end" fill="#363636" >2E-4</text>
<line x1="434.80" y1="348.20" x2="438.20" y2="348.20" stroke="#262626" stroke-width="1" />
<text x="431.40" y="351.13" font-size="8.2" text-anchor="end" fill="#363636" >3E-4</text>
<line x1="447.75" y1="433.10" x2="447.75" y2="435.50" stroke="#262626" stroke-width="1" />
<line x1="466.70" y1="433.10" x2="466.70" y2="435.50" stroke="#262626" stroke-width="1" />
<line x1="485.65" y1="433.10" x2="485.65" y2="435.50" stroke="#262626" stroke-width="1" />
<line x1="447.75" y1="377.07" x2="447.75" y2="390.08" stroke="#333" stroke-width="0.9" />
<line x1="445.05" y1="377.07" x2="450.45" y2="377.07" stroke="#1a1a1a" stroke-width="1.0" />
<line x1="445.05" y1="390.08" x2="450.45" y2="390.08" stroke="#1a1a1a" stroke-width="1.0" />
<path d="M446.05,378.27 L449.45,378.27 L447.75,375.47 Z" fill="none" stroke="#1a1a1a" stroke-width="0.85"/>
<circle cx="447.75" cy="379.33" r="1.35" fill="#1a1a1a"/>
<circle cx="447.75" cy="386.41" r="1.35" fill="#1a1a1a"/>
<path d="M446.05,388.88 L449.45,388.88 L447.75,391.68 Z" fill="#1a1a1a" stroke="#1a1a1a" stroke-width="0.6"/>
<line x1="466.70" y1="368.58" x2="466.70" y2="382.16" stroke="#333" stroke-width="0.9" />
<line x1="464.00" y1="368.58" x2="469.40" y2="368.58" stroke="#1a1a1a" stroke-width="1.0" />
<line x1="464.00" y1="382.16" x2="469.40" y2="382.16" stroke="#1a1a1a" stroke-width="1.0" />
<path d="M465.00,369.21 L468.40,369.21 L466.70,366.41 Z" fill="none" stroke="#1a1a1a" stroke-width="0.85"/>
<circle cx="464.10" cy="374.52" r="1.7" fill="none" stroke="#1a1a1a" stroke-width="0.9"/>
<circle cx="469.10" cy="376.50" r="1.7" fill="none" stroke="#1a1a1a" stroke-width="0.9"/>
<path d="M466.70,380.18 L468.30,381.88 L466.70,383.58 L465.10,381.88 Z" fill="none" stroke="#1a1a1a" stroke-width="0.85"/>
<line x1="485.65" y1="413.29" x2="485.65" y2="420.37" stroke="#333" stroke-width="0.9" />
<line x1="482.95" y1="413.29" x2="488.35" y2="413.29" stroke="#1a1a1a" stroke-width="1.0" />
<line x1="482.95" y1="420.37" x2="488.35" y2="420.37" stroke="#1a1a1a" stroke-width="1.0" />
<circle cx="481.45" cy="413.29" r="1.7" fill="none" stroke="#1a1a1a" stroke-width="0.9"/>
<circle cx="485.65" cy="413.29" r="1.7" fill="none" stroke="#1a1a1a" stroke-width="0.9"/>
<circle cx="489.85" cy="413.86" r="1.7" fill="none" stroke="#1a1a1a" stroke-width="0.9"/>
<path d="M483.95,418.32 L487.35,418.32 L485.65,421.12 Z" fill="#1a1a1a" stroke="#1a1a1a" stroke-width="0.6"/>
<line x1="467.00" y1="362.70" x2="485.10" y2="362.70" stroke="#555" stroke-width="1.1" />
<text x="474.15" y="361.50" font-size="8.5" text-anchor="middle" font-weight="bold" fill="#1a1a1a" >*</text>
<text x="477.95" y="361.50" font-size="8.5" text-anchor="middle" font-weight="bold" fill="#1a1a1a" >*</text>
<text x="81.60" y="479.40" font-size="9.0" textLength="33.10" lengthAdjust="spacingAndGlyphs" >HUDEP2</text>
<line x1="65.20" y1="484.80" x2="133.90" y2="484.80" stroke="#505050" stroke-width="1.3" />
<text x="58.00" y="524.30" font-size="9.2" transform="rotate(-90 58.00 524.30)" textLength="32.30" lengthAdjust="spacingAndGlyphs" >HUDEP1</text>
<text x="78.20" y="524.30" font-size="9.2" transform="rotate(-90 78.20 524.30)" textLength="31.10" lengthAdjust="spacingAndGlyphs" >Parental</text>
<text x="100.60" y="524.30" font-size="9.2" transform="rotate(-90 100.60 524.30)" textLength="35.30" lengthAdjust="spacingAndGlyphs" >Scramble</text>
<text x="122.50" y="524.30" font-size="9.2" transform="rotate(-90 122.50 524.30)" textLength="26.90" lengthAdjust="spacingAndGlyphs" >let-7a/f</text>
<text x="130.90" y="524.30" font-size="9.2" transform="rotate(-90 130.90 524.30)" textLength="13.70" lengthAdjust="spacingAndGlyphs" >TuD</text>
<text x="24.00" y="520.40" font-size="9.0" textLength="10.60" lengthAdjust="spacingAndGlyphs" >kD</text>
<text x="34.30" y="533.60" font-size="8.8" text-anchor="end" textLength="9.70" lengthAdjust="spacingAndGlyphs" >75</text>
<text x="35.00" y="558.00" font-size="8.8" text-anchor="end" textLength="14.00" lengthAdjust="spacingAndGlyphs" >100</text>
<text x="34.50" y="571.40" font-size="8.8" text-anchor="end" textLength="9.50" lengthAdjust="spacingAndGlyphs" >37</text>
<text x="34.50" y="581.90" font-size="8.8" text-anchor="end" textLength="9.50" lengthAdjust="spacingAndGlyphs" >37</text>
<text x="34.50" y="596.90" font-size="8.8" text-anchor="end" textLength="9.50" lengthAdjust="spacingAndGlyphs" >15</text>
<rect x="42.10" y="527.90" width="94.80" height="11.80" fill="#dadada" stroke="#2a2a2a" stroke-width="1.25"/>
<rect x="42.10" y="543.90" width="94.80" height="11.90" fill="#dadada" stroke="#2a2a2a" stroke-width="1.25"/>
<rect x="42.10" y="560.20" width="94.80" height="11.20" fill="#dadada" stroke="#2a2a2a" stroke-width="1.25"/>
<rect x="42.10" y="576.50" width="94.80" height="11.30" fill="#dadada" stroke="#2a2a2a" stroke-width="1.25"/>
<rect x="42.10" y="592.50" width="94.80" height="11.60" fill="#dadada" stroke="#2a2a2a" stroke-width="1.25"/>
<line x1="38.20" y1="531.10" x2="41.60" y2="531.10" stroke="#444" stroke-width="1" />
<line x1="38.20" y1="555.20" x2="41.60" y2="555.20" stroke="#444" stroke-width="1" />
<line x1="38.00" y1="571.60" x2="42.00" y2="571.60" stroke="#444" stroke-width="1" />
<line x1="38.00" y1="576.30" x2="42.00" y2="576.30" stroke="#444" stroke-width="1" />
<line x1="38.20" y1="593.00" x2="41.60" y2="593.00" stroke="#444" stroke-width="1" />
<path d="M46.20,535.00 Q53.20,535.00 60.20,535.00" stroke="#222" stroke-opacity="0.250" stroke-width="7.40" fill="none" stroke-linecap="round" filter="url(#bl3)"/>
<path d="M46.80,535.00 Q53.20,535.00 59.60,535.00" stroke="#111" stroke-opacity="1" stroke-width="4.2" fill="none" stroke-linecap="round" filter="url(#bl)"/>
<path d="M69.00,535.50 Q76.75,535.50 84.50,535.50" stroke="#111" stroke-opacity="0.2" stroke-width="3.2" fill="none" stroke-linecap="round" filter="url(#bl)"/>
<path d="M92.30,535.50 Q100.15,535.50 108.00,535.50" stroke="#111" stroke-opacity="0.17" stroke-width="3.2" fill="none" stroke-linecap="round" filter="url(#bl)"/>
<path d="M116.00,535.00 Q123.50,535.00 131.00,535.00" stroke="#222" stroke-opacity="0.250" stroke-width="7.40" fill="none" stroke-linecap="round" filter="url(#bl3)"/>
<path d="M116.60,535.00 Q123.50,535.00 130.40,535.00" stroke="#111" stroke-opacity="1" stroke-width="4.2" fill="none" stroke-linecap="round" filter="url(#bl)"/>
<path d="M46.50,550.40 Q53.25,550.40 60.00,550.40" stroke="#111" stroke-opacity="0.15" stroke-width="3.0" fill="none" stroke-linecap="round" filter="url(#bl)"/>
<path d="M69.40,550.80 Q76.80,550.80 84.20,550.80" stroke="#222" stroke-opacity="0.250" stroke-width="6.80" fill="none" stroke-linecap="round" filter="url(#bl3)"/>
<path d="M70.00,550.80 Q76.80,550.80 83.60,550.80" stroke="#111" stroke-opacity="1" stroke-width="3.6" fill="none" stroke-linecap="round" filter="url(#bl)"/>
<path d="M92.60,550.80 Q100.00,550.80 107.40,550.80" stroke="#222" stroke-opacity="0.250" stroke-width="6.80" fill="none" stroke-linecap="round" filter="url(#bl3)"/>
<path d="M93.20,550.80 Q100.00,550.80 106.80,550.80" stroke="#111" stroke-opacity="1" stroke-width="3.6" fill="none" stroke-linecap="round" filter="url(#bl)"/>
<path d="M115.80,550.60 Q123.10,550.60 130.40,550.60" stroke="#222" stroke-opacity="0.212" stroke-width="6.20" fill="none" stroke-linecap="round" filter="url(#bl3)"/>
<path d="M116.40,550.60 Q123.10,550.60 129.80,550.60" stroke="#111" stroke-opacity="0.85" stroke-width="3.0" fill="none" stroke-linecap="round" filter="url(#bl)"/>
<line x1="130.60" y1="547.00" x2="130.60" y2="550.50" stroke="#222" stroke-width="1.4" filter="url(#bl2)"/>
<path d="M46.20,566.60 Q53.50,568.00 60.80,566.60" stroke="#222" stroke-opacity="0.250" stroke-width="6.20" fill="none" stroke-linecap="round" filter="url(#bl3)"/>
<path d="M46.80,566.60 Q53.50,568.00 60.20,566.60" stroke="#111" stroke-opacity="1" stroke-width="3.0" fill="none" stroke-linecap="round" filter="url(#bl)"/>
<path d="M69.20,566.40 Q77.25,567.80 85.30,566.40" stroke="#222" stroke-opacity="0.250" stroke-width="6.20" fill="none" stroke-linecap="round" filter="url(#bl3)"/>
<path d="M69.80,566.40 Q77.25,567.80 84.70,566.40" stroke="#111" stroke-opacity="1" stroke-width="3.0" fill="none" stroke-linecap="round" filter="url(#bl)"/>
<path d="M92.40,566.00 Q100.15,567.40 107.90,566.00" stroke="#222" stroke-opacity="0.250" stroke-width="6.20" fill="none" stroke-linecap="round" filter="url(#bl3)"/>
<path d="M93.00,566.00 Q100.15,567.40 107.30,566.00" stroke="#111" stroke-opacity="1" stroke-width="3.0" fill="none" stroke-linecap="round" filter="url(#bl)"/>
<path d="M116.20,565.40 Q124.00,566.80 131.80,565.40" stroke="#222" stroke-opacity="0.250" stroke-width="6.20" fill="none" stroke-linecap="round" filter="url(#bl3)"/>
<path d="M116.80,565.40 Q124.00,566.80 131.20,565.40" stroke="#111" stroke-opacity="1" stroke-width="3.0" fill="none" stroke-linecap="round" filter="url(#bl)"/>
<path d="M47.70,580.60 Q54.00,581.20 60.30,580.60" stroke="#222" stroke-opacity="0.250" stroke-width="8.80" fill="none" stroke-linecap="round" filter="url(#bl3)"/>
<path d="M48.30,580.60 Q54.00,581.20 59.70,580.60" stroke="#111" stroke-opacity="1" stroke-width="5.6" fill="none" stroke-linecap="round" filter="url(#bl)"/>
<path d="M47.80,599.50 Q56.00,598.90 64.20,599.50" stroke="#222" stroke-opacity="0.250" stroke-width="8.00" fill="none" stroke-linecap="round" filter="url(#bl3)"/>
<path d="M48.40,599.50 Q56.00,598.90 63.60,599.50" stroke="#111" stroke-opacity="1" stroke-width="4.8" fill="none" stroke-linecap="round" filter="url(#bl)"/>
<path d="M115.90,596.60 Q123.75,598.40 131.60,596.60" stroke="#222" stroke-opacity="0.250" stroke-width="7.20" fill="none" stroke-linecap="round" filter="url(#bl3)"/>
<path d="M116.50,596.60 Q123.75,598.40 131.00,596.60" stroke="#111" stroke-opacity="1" stroke-width="4.0" fill="none" stroke-linecap="round" filter="url(#bl)"/>
<text x="141.00" y="537.50" font-size="9.0" textLength="18.80" lengthAdjust="spacingAndGlyphs" >HIC2</text>
<text x="141.00" y="554.20" font-size="9.0" textLength="30.80" lengthAdjust="spacingAndGlyphs" >BCL11A</text>
<text x="141.00" y="568.80" font-size="9.0" textLength="25.20" lengthAdjust="spacingAndGlyphs" >ACTIN</text>
<text x="141.00" y="585.60" font-size="9.0" textLength="27.90" lengthAdjust="spacingAndGlyphs" >LIN28B</text>
<text x="141.00" y="603.10" font-size="9.0" textLength="17.60" lengthAdjust="spacingAndGlyphs" >HBG</text>
<text x="229.50" y="482.30" font-size="10.5" textLength="60.00" lengthAdjust="spacingAndGlyphs" >HIC2 protein</text>
<text x="328.60" y="480.80" font-size="10.5" textLength="74.40" lengthAdjust="spacingAndGlyphs" >BCL11A protein</text>
<text x="203.00" y="524.50" font-size="10.4" text-anchor="middle" transform="rotate(-90 203.00 524.50)" textLength="69.00" lengthAdjust="spacingAndGlyphs" >Normalized to actin</text>
<rect x="226.90" y="519.14" width="11.90" height="41.36" fill="#b86a2e" />
<rect x="244.90" y="555.57" width="11.30" height="4.93" fill="#27a3dd" />
<rect x="262.30" y="556.74" width="11.20" height="3.76" fill="#9db27e" />
<rect x="280.00" y="539.35" width="11.50" height="21.15" fill="#fab51f" />
<line x1="224.40" y1="486.80" x2="224.40" y2="561.10" stroke="#262626" stroke-width="1.15" />
<line x1="221.00" y1="560.50" x2="294.60" y2="560.50" stroke="#262626" stroke-width="1.15" />
<text x="217.60" y="563.43" font-size="8.2" text-anchor="end" fill="#363636" >0</text>
<line x1="221.00" y1="537.00" x2="224.40" y2="537.00" stroke="#262626" stroke-width="1" />
<text x="217.60" y="539.93" font-size="8.2" text-anchor="end" fill="#363636" >5</text>
<line x1="221.00" y1="513.50" x2="224.40" y2="513.50" stroke="#262626" stroke-width="1" />
<text x="217.60" y="516.43" font-size="8.2" text-anchor="end" fill="#363636" >10</text>
<line x1="221.00" y1="490.00" x2="224.40" y2="490.00" stroke="#262626" stroke-width="1" />
<text x="217.60" y="492.93" font-size="8.2" text-anchor="end" fill="#363636" >15</text>
<line x1="232.85" y1="560.50" x2="232.85" y2="562.90" stroke="#262626" stroke-width="1" />
<line x1="250.55" y1="560.50" x2="250.55" y2="562.90" stroke="#262626" stroke-width="1" />
<line x1="267.90" y1="560.50" x2="267.90" y2="562.90" stroke="#262626" stroke-width="1" />
<line x1="285.75" y1="560.50" x2="285.75" y2="562.90" stroke="#262626" stroke-width="1" />
<line x1="232.85" y1="512.09" x2="232.85" y2="525.25" stroke="#333" stroke-width="0.9" />
<line x1="230.15" y1="512.09" x2="235.55" y2="512.09" stroke="#1a1a1a" stroke-width="1.0" />
<line x1="230.15" y1="525.25" x2="235.55" y2="525.25" stroke="#1a1a1a" stroke-width="1.0" />
<path d="M231.15,511.83 L234.55,511.83 L232.85,514.63 Z" fill="#1a1a1a" stroke="#1a1a1a" stroke-width="0.6"/>
<circle cx="232.85" cy="521.02" r="1.35" fill="#1a1a1a"/>
<circle cx="248.85" cy="555.57" r="1.7" fill="none" stroke="#1a1a1a" stroke-width="0.9"/>
<circle cx="252.25" cy="555.57" r="1.7" fill="none" stroke="#1a1a1a" stroke-width="0.9"/>
<circle cx="266.60" cy="557.21" r="1.35" fill="#1a1a1a"/>
<circle cx="269.20" cy="556.50" r="1.35" fill="#1a1a1a"/>
<line x1="285.75" y1="531.36" x2="285.75" y2="546.40" stroke="#333" stroke-width="0.9" />
<line x1="283.05" y1="531.36" x2="288.45" y2="531.36" stroke="#1a1a1a" stroke-width="1.0" />
<line x1="283.05" y1="546.40" x2="288.45" y2="546.40" stroke="#1a1a1a" stroke-width="1.0" />
<path d="M284.05,531.57 L287.45,531.57 L285.75,534.37 Z" fill="#1a1a1a" stroke="#1a1a1a" stroke-width="0.6"/>
<circle cx="285.75" cy="544.52" r="1.35" fill="#1a1a1a"/>
<text x="251.50" y="496.40" font-size="8.9" textLength="32.90" lengthAdjust="spacingAndGlyphs" >HUDEP2</text>
<line x1="244.30" y1="502.10" x2="292.00" y2="502.10" stroke="#4a4a4a" stroke-width="1.3" />
<rect x="335.50" y="552.77" width="10.80" height="7.63" fill="#b86a2e" />
<rect x="351.80" y="512.70" width="10.80" height="47.70" fill="#27a3dd" />
<rect x="367.80" y="525.58" width="11.30" height="34.82" fill="#9db27e" />
<rect x="384.20" y="544.18" width="10.70" height="16.22" fill="#fab51f" />
<line x1="329.80" y1="485.65" x2="329.80" y2="561.00" stroke="#262626" stroke-width="1.15" />
<line x1="326.40" y1="560.40" x2="401.00" y2="560.40" stroke="#262626" stroke-width="1.15" />
<text x="323.00" y="563.33" font-size="8.2" text-anchor="end" fill="#363636" >0.0</text>
<line x1="326.40" y1="536.55" x2="329.80" y2="536.55" stroke="#262626" stroke-width="1" />
<text x="323.00" y="539.48" font-size="8.2" text-anchor="end" fill="#363636" >0.5</text>
<line x1="326.40" y1="512.70" x2="329.80" y2="512.70" stroke="#262626" stroke-width="1" />
<text x="323.00" y="515.63" font-size="8.2" text-anchor="end" fill="#363636" >1.0</text>
<line x1="326.40" y1="488.85" x2="329.80" y2="488.85" stroke="#262626" stroke-width="1" />
<text x="323.00" y="491.78" font-size="8.2" text-anchor="end" fill="#363636" >1.5</text>
<line x1="340.90" y1="560.40" x2="340.90" y2="562.80" stroke="#262626" stroke-width="1" />
<line x1="357.20" y1="560.40" x2="357.20" y2="562.80" stroke="#262626" stroke-width="1" />
<line x1="373.45" y1="560.40" x2="373.45" y2="562.80" stroke="#262626" stroke-width="1" />
<line x1="389.55" y1="560.40" x2="389.55" y2="562.80" stroke="#262626" stroke-width="1" />
<line x1="340.90" y1="549.67" x2="340.90" y2="556.11" stroke="#333" stroke-width="0.9" />
<line x1="338.20" y1="549.67" x2="343.60" y2="549.67" stroke="#1a1a1a" stroke-width="1.0" />
<line x1="338.20" y1="556.11" x2="343.60" y2="556.11" stroke="#1a1a1a" stroke-width="1.0" />
<path d="M339.20,549.66 L342.60,549.66 L340.90,552.46 Z" fill="#1a1a1a" stroke="#1a1a1a" stroke-width="0.6"/>
<circle cx="340.90" cy="555.15" r="1.35" fill="#1a1a1a"/>
<circle cx="355.50" cy="512.70" r="1.7" fill="none" stroke="#1a1a1a" stroke-width="0.9"/>
<circle cx="358.90" cy="512.70" r="1.7" fill="none" stroke="#1a1a1a" stroke-width="0.9"/>
<line x1="373.45" y1="517.47" x2="373.45" y2="533.69" stroke="#333" stroke-width="0.9" />
<line x1="370.75" y1="517.47" x2="376.15" y2="517.47" stroke="#1a1a1a" stroke-width="1.0" />
<line x1="370.75" y1="533.69" x2="376.15" y2="533.69" stroke="#1a1a1a" stroke-width="1.0" />
<circle cx="373.45" cy="518.90" r="1.35" fill="#1a1a1a"/>
<path d="M371.75,530.58 L375.15,530.58 L373.45,533.38 Z" fill="#1a1a1a" stroke="#1a1a1a" stroke-width="0.6"/>
<line x1="389.55" y1="530.35" x2="389.55" y2="560.40" stroke="#333" stroke-width="0.9" />
<line x1="386.85" y1="530.35" x2="392.25" y2="530.35" stroke="#1a1a1a" stroke-width="1.0" />
<line x1="386.85" y1="560.40" x2="392.25" y2="560.40" stroke="#1a1a1a" stroke-width="1.0" />
<circle cx="389.55" cy="534.16" r="1.35" fill="#1a1a1a"/>
<circle cx="389.55" cy="554.68" r="1.35" fill="#1a1a1a"/>
<text x="356.80" y="496.40" font-size="8.9" textLength="32.90" lengthAdjust="spacingAndGlyphs" >HUDEP2</text>
<line x1="349.40" y1="502.10" x2="397.50" y2="502.10" stroke="#4a4a4a" stroke-width="1.3" />
<text x="236.20" y="568.30" font-size="9.5" text-anchor="end" transform="rotate(-90 236.20 568.30)" textLength="32.00" lengthAdjust="spacingAndGlyphs" >HUDEP1</text>
<text x="252.30" y="568.30" font-size="9.5" text-anchor="end" transform="rotate(-90 252.30 568.30)" textLength="30.80" lengthAdjust="spacingAndGlyphs" >Parental</text>
<text x="270.40" y="568.30" font-size="9.5" text-anchor="end" transform="rotate(-90 270.40 568.30)" textLength="35.20" lengthAdjust="spacingAndGlyphs" >Scramble</text>
<text x="287.80" y="568.30" font-size="9.5" text-anchor="end" transform="rotate(-90 287.80 568.30)" textLength="44.70" lengthAdjust="spacingAndGlyphs" >let-7a/f TuD</text>
<text x="343.50" y="568.30" font-size="9.5" text-anchor="end" transform="rotate(-90 343.50 568.30)" textLength="31.80" lengthAdjust="spacingAndGlyphs" >HUDEP1</text>
<text x="359.20" y="568.30" font-size="9.5" text-anchor="end" transform="rotate(-90 359.20 568.30)" textLength="30.80" lengthAdjust="spacingAndGlyphs" >Parental</text>
<text x="376.20" y="568.30" font-size="9.5" text-anchor="end" transform="rotate(-90 376.20 568.30)" textLength="35.30" lengthAdjust="spacingAndGlyphs" >Scramble</text>
<text x="392.80" y="568.30" font-size="9.5" text-anchor="end" transform="rotate(-90 392.80 568.30)" textLength="44.50" lengthAdjust="spacingAndGlyphs" >let-7a/f TuD</text>
<text x="431.20" y="480.80" font-size="10.5" textLength="74.50" lengthAdjust="spacingAndGlyphs" >HUDEP2 (Adult)</text>
<text x="431.80" y="497.90" font-size="9.2" textLength="28.70" lengthAdjust="spacingAndGlyphs" >Control</text>
<text x="485.40" y="494.40" font-size="9.2" textLength="17.30" lengthAdjust="spacingAndGlyphs" >let-7</text>
<text x="476.90" y="504.60" font-size="9.2" textLength="35.70" lengthAdjust="spacingAndGlyphs" >inhibition</text>
<text x="436.50" y="514.70" font-size="9.2" textLength="17.00" lengthAdjust="spacingAndGlyphs" >let-7</text>
<rect x="424.20" y="519.50" width="38.10" height="4.40" fill="#c7a5d0" />
<line x1="424.80" y1="519.50" x2="424.80" y2="523.90" stroke="#844c96" stroke-width="0.75" />
<line x1="426.28" y1="519.50" x2="426.28" y2="523.90" stroke="#844c96" stroke-width="0.75" />
<line x1="427.76" y1="519.50" x2="427.76" y2="523.90" stroke="#844c96" stroke-width="0.75" />
<line x1="429.24" y1="519.50" x2="429.24" y2="523.90" stroke="#844c96" stroke-width="0.75" />
<line x1="430.72" y1="519.50" x2="430.72" y2="523.90" stroke="#844c96" stroke-width="0.75" />
<line x1="432.20" y1="519.50" x2="432.20" y2="523.90" stroke="#844c96" stroke-width="0.75" />
<line x1="433.68" y1="519.50" x2="433.68" y2="523.90" stroke="#844c96" stroke-width="0.75" />
<line x1="435.16" y1="519.50" x2="435.16" y2="523.90" stroke="#844c96" stroke-width="0.75" />
<line x1="436.64" y1="519.50" x2="436.64" y2="523.90" stroke="#844c96" stroke-width="0.75" />
<line x1="438.12" y1="519.50" x2="438.12" y2="523.90" stroke="#844c96" stroke-width="0.75" />
<line x1="439.60" y1="519.50" x2="439.60" y2="523.90" stroke="#844c96" stroke-width="0.75" />
<line x1="441.08" y1="519.50" x2="441.08" y2="523.90" stroke="#844c96" stroke-width="0.75" />
<line x1="442.56" y1="519.50" x2="442.56" y2="523.90" stroke="#844c96" stroke-width="0.75" />
<line x1="444.04" y1="519.50" x2="444.04" y2="523.90" stroke="#844c96" stroke-width="0.75" />
<line x1="445.52" y1="519.50" x2="445.52" y2="523.90" stroke="#844c96" stroke-width="0.75" />
<line x1="447.00" y1="519.50" x2="447.00" y2="523.90" stroke="#844c96" stroke-width="0.75" />
<line x1="448.48" y1="519.50" x2="448.48" y2="523.90" stroke="#844c96" stroke-width="0.75" />
<line x1="449.96" y1="519.50" x2="449.96" y2="523.90" stroke="#844c96" stroke-width="0.75" />
<line x1="451.44" y1="519.50" x2="451.44" y2="523.90" stroke="#844c96" stroke-width="0.75" />
<line x1="452.92" y1="519.50" x2="452.92" y2="523.90" stroke="#844c96" stroke-width="0.75" />
<line x1="454.40" y1="519.50" x2="454.40" y2="523.90" stroke="#844c96" stroke-width="0.75" />
<line x1="455.88" y1="519.50" x2="455.88" y2="523.90" stroke="#844c96" stroke-width="0.75" />
<line x1="457.36" y1="519.50" x2="457.36" y2="523.90" stroke="#844c96" stroke-width="0.75" />
<line x1="458.84" y1="519.50" x2="458.84" y2="523.90" stroke="#844c96" stroke-width="0.75" />
<line x1="460.32" y1="519.50" x2="460.32" y2="523.90" stroke="#844c96" stroke-width="0.75" />
<line x1="461.80" y1="519.50" x2="461.80" y2="523.90" stroke="#844c96" stroke-width="0.75" />
<rect x="479.90" y="521.00" width="22.20" height="2.70" fill="#a093b2" />
<line x1="484.90" y1="515.80" x2="496.30" y2="527.00" stroke="#b3123c" stroke-width="2.0" />
<line x1="496.30" y1="515.80" x2="484.90" y2="527.00" stroke="#b3123c" stroke-width="2.0" />
<line x1="443.20" y1="534.80" x2="443.20" y2="552.30" stroke="#c01a40" stroke-width="1.6" />
<line x1="436.40" y1="552.80" x2="450.20" y2="552.80" stroke="#c01a40" stroke-width="1.6" />
<ellipse cx="443.6" cy="564.0" rx="12.3" ry="5.0" fill="#cde5c4" stroke="#4d7a4d" stroke-width="0.7" stroke-dasharray="1.6 1.1"/>
<text x="443.60" y="566.60" font-size="6.8" text-anchor="middle" fill="#5e8a5e" textLength="18.00" lengthAdjust="spacingAndGlyphs" >HIC2</text>
<line x1="443.40" y1="574.50" x2="443.40" y2="592.00" stroke="#4a4a4a" stroke-width="1.5" stroke-dasharray="1.6 3.0"/>
<line x1="436.40" y1="593.30" x2="450.40" y2="593.30" stroke="#4a4a4a" stroke-width="1.3" stroke-dasharray="1.6 2.6"/>
<path d="M441.3,591.2 L443.4,593.6 L445.5,591.2" fill="#444"/>
<ellipse cx="443.8" cy="608.4" rx="18.6" ry="8.4" fill="#5b2a6e"/>
<text x="443.80" y="611.90" font-size="9.4" text-anchor="middle" fill="#efe4f2" textLength="30.50" lengthAdjust="spacingAndGlyphs" >BCL11A</text>
<line x1="491.40" y1="532.00" x2="491.40" y2="550.00" stroke="#4a4a4a" stroke-width="1.5" stroke-dasharray="1.6 3.0"/>
<line x1="485.00" y1="551.30" x2="498.00" y2="551.30" stroke="#4a4a4a" stroke-width="1.3" stroke-dasharray="1.6 2.6"/>
<ellipse cx="491.7" cy="563.4" rx="14.0" ry="6.1" fill="#3db54a"/>
<text x="491.70" y="566.80" font-size="8.8" text-anchor="middle" fill="#eef9ef" textLength="20.50" lengthAdjust="spacingAndGlyphs" >HIC2</text>
<line x1="491.40" y1="575.80" x2="491.40" y2="592.80" stroke="#c01a40" stroke-width="1.6" />
<line x1="485.00" y1="593.30" x2="498.40" y2="593.30" stroke="#c01a40" stroke-width="1.6" />
<ellipse cx="491.6" cy="606.4" rx="10.9" ry="4.2" fill="#8e6c99" stroke="#5b3a66" stroke-width="0.6" stroke-dasharray="1.2 0.9"/>
<text x="491.60" y="608.40" font-size="5.4" text-anchor="middle" fill="#4a2a55" textLength="14.50" lengthAdjust="spacingAndGlyphs" >BCL11A</text>
<line x1="0.00" y1="0.50" x2="520.00" y2="0.50" stroke="#4a4a4a" stroke-width="1" />
<line x1="0.50" y1="0.00" x2="0.50" y2="625.00" stroke="#4a4a4a" stroke-width="1" />
<line x1="519.50" y1="0.00" x2="519.50" y2="625.00" stroke="#6a6a6a" stroke-width="1" />
<line x1="0.00" y1="624.50" x2="520.00" y2="624.50" stroke="#555" stroke-width="1" />
</svg></body></html>
